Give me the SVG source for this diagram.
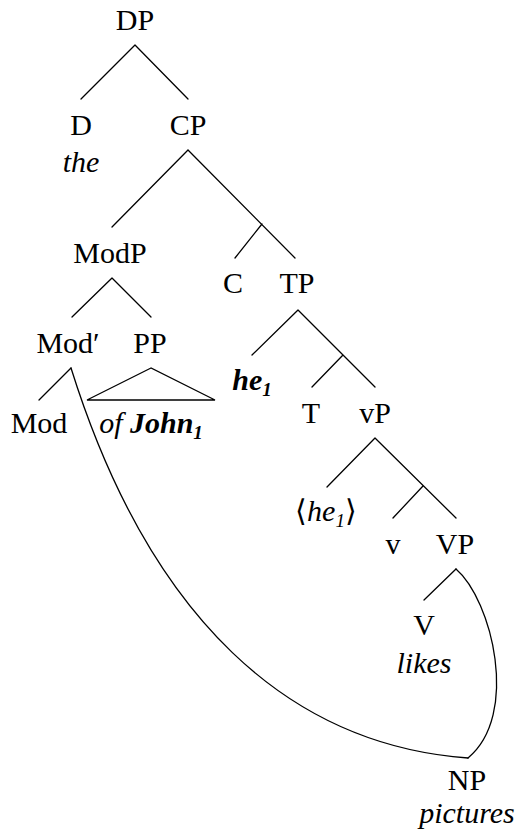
<svg xmlns="http://www.w3.org/2000/svg" width="518" height="840" viewBox="0 0 518 840">
<rect width="518" height="840" fill="#fff"/>
<g id="connectors" stroke="#000" stroke-width="1.3" fill="none" stroke-linecap="round">
<path d="M135,45 L81,99 M135,45 L188,99"/>
<path d="M188,150 L112,227 M188,150 L295,258 M262,224 L235,258"/>
<path d="M112,278 L72,317 M112,278 L151,317"/>
<path d="M71,368 L39,400"/>
<path d="M151,368 L87,400 L215,400 Z"/>
<path d="M298,310 L252,355 M298,310 L375,387 M343,355 L312,387"/>
<path d="M375,438 L327,487 M375,438 L456,518 M423,486 L393,518"/>
<path d="M456,569 L424,600"/>
<path d="M71,368 C150,620 290,745 468,758"/>
<path d="M456,569 C492,600 520,715 468,758"/>
</g>
<g id="nodes" font-family="Liberation Serif, Times New Roman, serif" font-size="30" text-anchor="middle" fill="#000">
<g id="DP"><text x="135" y="30">DP</text></g>
<g id="D"><text x="81" y="135">D</text><text font-style="italic" x="81" y="172">the</text></g>
<g id="CP"><text x="188" y="135">CP</text></g>
<g id="ModP"><text x="110" y="263">ModP</text></g>
<g id="C"><text x="233" y="293">C</text></g>
<g id="TP"><text x="297" y="293">TP</text></g>
<g id="ModBar"><text x="68" y="353">Mod′</text></g>
<g id="PP"><text x="150" y="353">PP</text></g>
<g id="he1"><text x="252" y="390" font-style="italic" font-weight="bold">he<tspan font-size="19" dy="6">1</tspan></text></g>
<g id="Mod"><text x="39" y="433">Mod</text></g>
<g id="ofJohn"><text x="151" y="433" font-style="italic">of <tspan font-weight="bold">John</tspan><tspan font-weight="bold" font-size="19" dy="6">1</tspan></text></g>
<g id="T"><text x="311" y="423">T</text></g>
<g id="vP"><text x="375" y="423">vP</text></g>
<g id="he1trace"><text x="326" y="521">⟨<tspan font-style="italic">he</tspan><tspan font-style="italic" font-size="19" dy="6">1</tspan><tspan dy="-6">⟩</tspan></text></g>
<g id="v"><text x="393" y="554">v</text></g>
<g id="VP"><text x="455" y="554">VP</text></g>
<g id="V"><text x="424" y="635">V</text><text font-style="italic" x="424" y="673">likes</text></g>
<g id="NP"><text x="467" y="790">NP</text><text font-style="italic" x="467" y="823">pictures</text></g>
</g>
</svg>
